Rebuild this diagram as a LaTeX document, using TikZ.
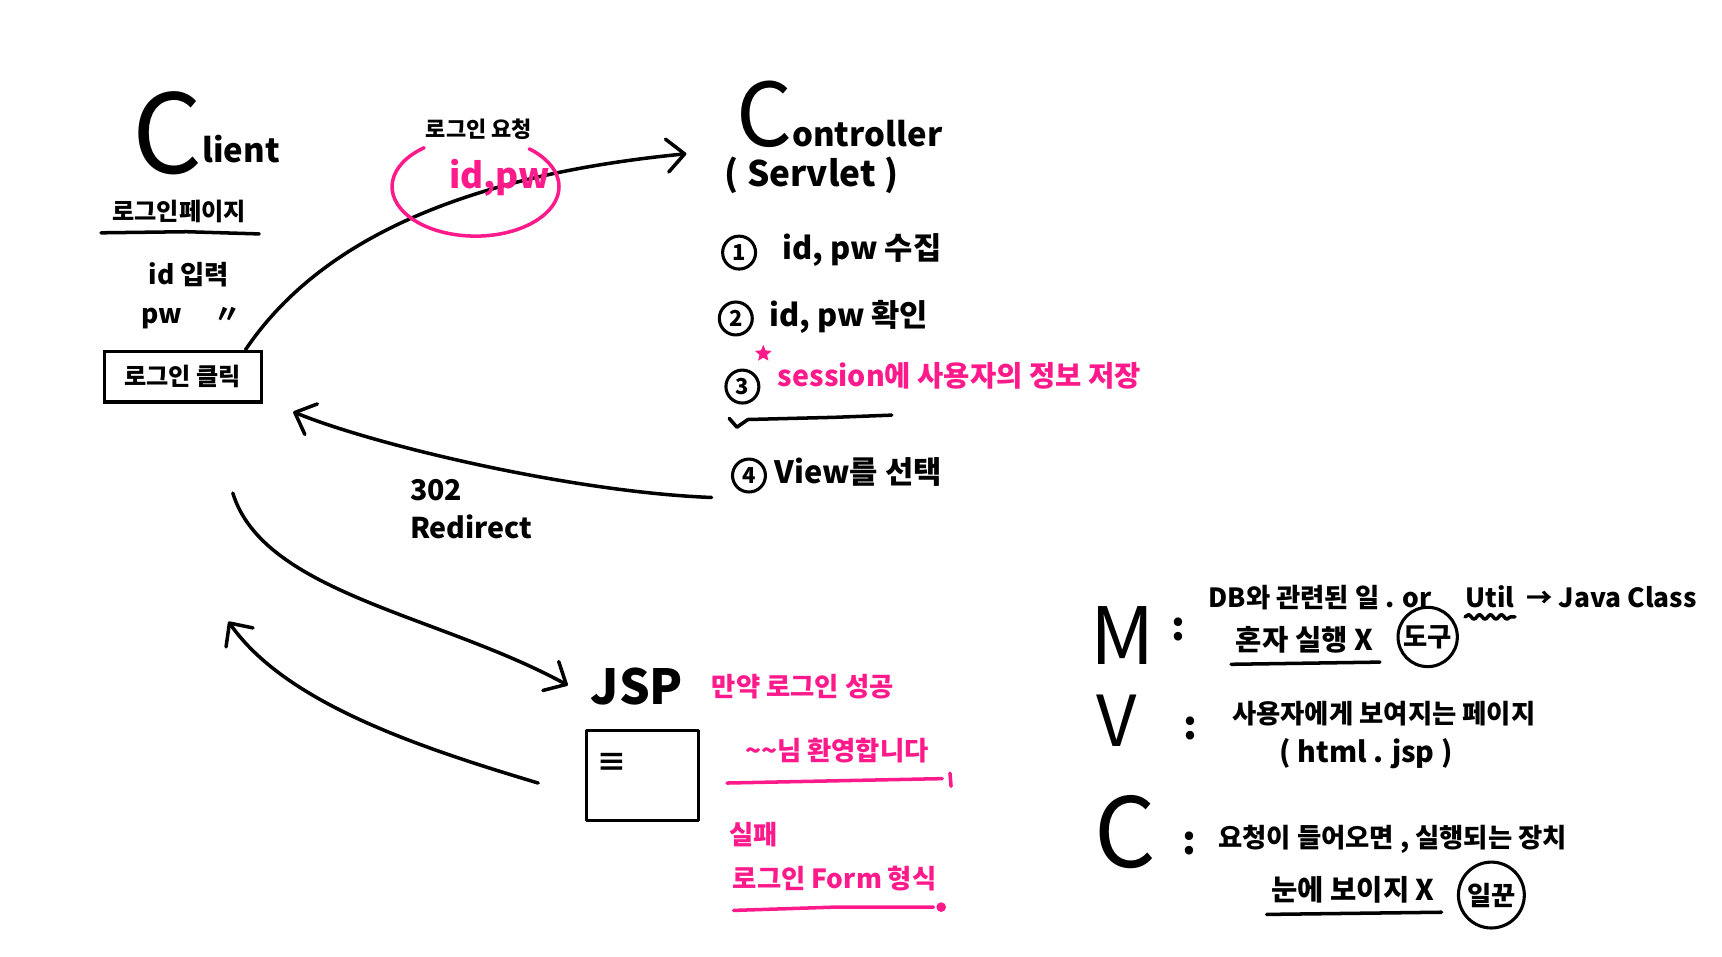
\documentclass[tikz,border=0pt]{standalone}
\usepackage{fontspec}
\setmainfont{Noto Sans CJK KR}
\usetikzlibrary{arrows.meta,shapes.geometric,decorations.pathmorphing}
\definecolor{pk}{HTML}{FF1A8C}
\tikzset{
 hand/.style={line width=1.6pt, line cap=round, line join=round},
 arr/.style={hand, -{Straight Barb[length=8pt,width=15pt,round]}},
 pkline/.style={hand, draw=pk},
 tx/.style={inner sep=0pt, font=\bfseries\fontsize{#1}{#1}\selectfont},
 tx/.default=12,
 tp/.style={tx=#1, text=pk},
 tp/.default=12,
 big/.style={inner sep=0pt, font=\mdseries\fontsize{#1}{#1}\selectfont},
 numc/.style={draw, circle, line width=1.4pt, minimum size=15pt, inner sep=0pt, font=\bfseries\fontsize{10}{10}\selectfont},
 ringc/.style={draw, circle, line width=1.4pt, inner sep=0pt, font=\bfseries\fontsize{12}{12}\selectfont},
}
\begin{document}
\begin{tikzpicture}[x=0.5pt,y=-0.5pt]
\useasboundingbox (0,0) rectangle (1568,871);
\fill[white] (0,0) rectangle (1568,871);

% ---------- Client ----------
\node[tx, anchor=base west] (client) at (120,158) {{\mdseries\fontsize{50}{50}\selectfont C}\raisebox{5pt}{\fontsize{15}{15}\selectfont lient}};
\node[tx=11] (lpage) at (163,193) {로그인페이지};
\draw[hand] (92,212) -- (170,211) -- (236,213);
\node[tx=12] (idin) at (172,250) {id 입력};
\node[tx=12, anchor=west] (pwin) at (128,290) {pw \quad 〃};
\node[tx=11, draw, line width=1.6pt, minimum width=71.5pt, minimum height=23pt] (btn) at (166.5,343) {로그인 클릭};

% ---------- request arrow ----------
\coordinate (a1e) at (625,140);
\draw[arr] ([xshift=-8pt]btn.north east) .. controls (290,220) and (420,160) .. (a1e);
\node[tx=10] (req) at (436,118) {로그인 요청};
\draw[pkline] (433,170) ++(232:76 and 45) arc[start angle=232, end angle=-50, x radius=76, y radius=45];
\node[tp=16] (idpw) at (455,162) {id,pw};

% ---------- Controller ----------
\node[tx, anchor=base west] (ctrl) at (670,133) {{\mdseries\fontsize{40}{40}\selectfont C}{\fontsize{15}{15}\selectfont ontroller}};
\node[tx=16] (servlet) at (739,160) {( Servlet )};

\node[numc] (n1) at (673,230) {1};
\node[tx=14, anchor=west] (s1) at (712,228) {id, pw 수집};
\node[numc] (n2) at (670,290) {2};
\node[tx=14, anchor=west] (s2) at (700,289) {id, pw 확인};
\node[numc] (n3) at (676,352) {3};
\node[star, star points=5, star point ratio=2.2, fill=pk, minimum size=8pt, inner sep=0pt] (st) at (695,322) {};
\node[tp=13, anchor=west] (s3) at (708,342) {session에 사용자의 정보 저장};
\draw[hand] (664,381) -- (671,389) -- (681,382) -- (720,381) -- (760,380) -- (812,378);
\node[numc] (n4) at (682,433) {4};
\node[tx=14, anchor=west] (s4) at (705,430) {View를 선택};

% ---------- redirect arrow ----------
\coordinate (a2s) at (648,453);
\coordinate (a2e) at (267,375);
\draw[arr] (a2s) .. controls (520,448) and (340,405) .. (a2e);
\node[tx=13, anchor=west] (r302) at (373,446) {302};
\node[tx=13, anchor=west] (redir) at (373,480) {Redirect};

% ---------- client <-> JSP ----------
\coordinate (a3s) at (212,449);
\coordinate (a3e) at (517,624);
\draw[arr] (a3s) .. controls (240,540) and (400,560) .. (a3e);
\coordinate (a4s) at (490,713);
\coordinate (a4e) at (208,566);
\draw[arr] (a4s) .. controls (380,680) and (260,640) .. (a4e);

% ---------- JSP ----------
\node[tx=22] (jsp) at (580,625) {JSP};
\node[draw, hand, minimum width=51pt, minimum height=41pt, inner sep=0pt] (jspbox) at (585,706) {};
\node[tx=14] (menu) at (557,695) {≡};

\node[tp=12] (succ) at (731,625) {만약 로그인 성공};
\node[tp=12] (welc) at (762,683) {\textasciitilde\textasciitilde 님 환영합니다};
\draw[pkline] (662,713) -- (760,711) -- (858,709);
\draw[pkline] (865,704) -- (866,716);
\node[tp=12] (fail) at (686,760) {실패};
\node[tp=12] (form) at (760,800) {로그인 Form 형식};
\draw[pkline] (668,829) -- (760,826) -- (850,826);
\fill[pk] (857,826) circle[radius=2.2pt];

% ---------- MVC legend ----------
\node[big=36, anchor=base west] (M) at (993,605) {M};
\node[tx=18] (mc) at (1073,573) {:};
\node[tx=12, anchor=base west] (m1) at (1100,553) {DB와 관련된 일 . or};
\node[tx=12, anchor=base west] (util) at ([xshift=15pt]m1.base east) {Util};
\draw[hand, decorate, decoration={snake, amplitude=1pt, segment length=5pt}] ([yshift=-4pt]util.south west) -- ([yshift=-4pt]util.south east);
\node[tx=12, anchor=base west] (jc) at ([xshift=5pt]util.base east) {→ Java Class};
\node[tx=13, anchor=base west] (m2) at (1125,592) {혼자 실행 X};
\draw[hand] ([shift={(-2pt,-5pt)}]m2.south west) -- ([shift={(3pt,-4pt)}]m2.south east);
\node[ringc, minimum size=27pt] (tool) at (1300,580) {도구};

\node[big=32, anchor=base west] (V) at (998,680) {V};
\node[tx=18] (vc) at (1084,663) {:};
\node[tx=12] (v1) at (1260,650) {사용자에게 보여지는 페이지};
\node[tx=13] (v2) at (1244,686) {( html . jsp )};

\node[big=44, anchor=base west] (Cc) at (996,790) {C};
\node[tx=18] (cc) at (1083,768) {:};
\node[tx=12] (c1) at (1268,764) {요청이 들어오면 , 실행되는 장치};
\node[tx=13] (c2) at (1232,810) {눈에 보이지 X};
\draw[hand] ([shift={(-2pt,-5pt)}]c2.south west) -- ([shift={(3pt,-4pt)}]c2.south east);
\node[ringc, minimum size=30pt] (worker) at (1358,815) {일꾼};
\end{tikzpicture}
\end{document}
